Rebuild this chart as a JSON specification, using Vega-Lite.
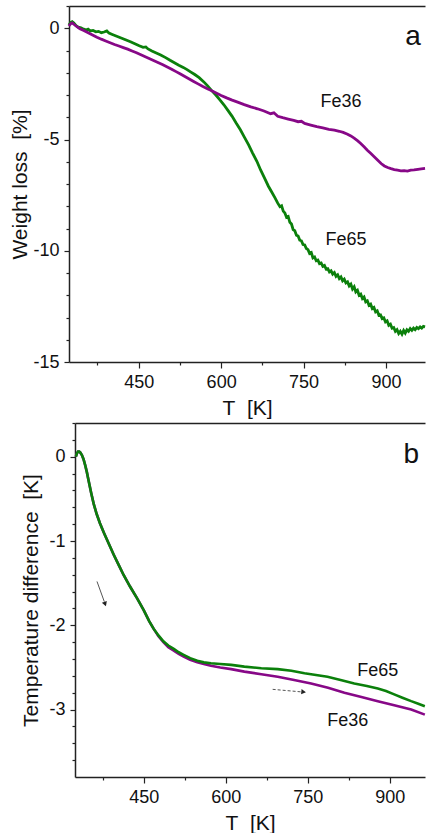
{
  "$schema": "https://vega.github.io/schema/vega-lite/v6.json",
  "padding": {"left": 9, "top": 5, "right": 0, "bottom": 0},
  "background": "white",
  "spacing": 4,
  "config": {
    "view": {"stroke": null},
    "axis": {"domainColor": "#222", "domainWidth": 1.5, "tickColor": "#222", "tickWidth": 1.2, "labelColor": "#111", "titleColor": "#111", "labelFont": "Liberation Sans", "titleFont": "Liberation Sans", "labelFontSize": 18, "titleFontSize": 21, "titleFontWeight": "normal", "grid": false, "labelPadding": 5, "labelFlush": false, "labelOverlap": false},
    "text": {"font": "Liberation Sans"}
  },
  "datasets": {
    "a65": [[323,0.15],[326,0.26],[329,0.30],[332,0.24],[336,0.12],[340,0.05],[345,0.02],[350,-0.04],[355,-0.08],[358,-0.04],[362,-0.12],[367,-0.10],[372,-0.16],[377,-0.14],[382,-0.20],[387,-0.17],[392,-0.12],[396,-0.22],[402,-0.28],[410,-0.36],[418,-0.44],[426,-0.52],[435,-0.61],[443,-0.70],[451,-0.79],[458,-0.86],[463,-0.84],[467,-0.93],[474,-1.02],[482,-1.11],[490,-1.20],[499,-1.32],[507,-1.44],[515,-1.55],[523,-1.66],[531,-1.76],[538,-1.86],[545,-1.97],[552,-2.08],[560,-2.22],[568,-2.40],[575,-2.58],[582,-2.78],[590,-2.99],[597,-3.20],[605,-3.44],[612,-3.68],[620,-3.96],[627,-4.25],[635,-4.56],[642,-4.88],[650,-5.24],[657,-5.60],[665,-5.98],[672,-6.38],[679,-6.74],[686,-7.10],[692,-7.36],[698,-7.62],[703,-7.86],[707,-8.02],[710,-7.98],[713,-8.22],[716,-8.30],[719,-8.50],[722,-8.46],[725,-8.72],[728,-8.80],[731,-9.05],[734,-9.10],[737,-9.30],[740,-9.34],[743,-9.52],[746,-9.55],[749,-9.72],[752,-9.74],[755,-9.90],[758,-9.95],[761,-10.12],[764,-10.08],[767,-10.32],[770,-10.28],[773,-10.45],[776,-10.42],[779,-10.58],[782,-10.55],[785,-10.70],[788,-10.66],[791,-10.82],[794,-10.80],[797,-10.95],[800,-10.90],[803,-11.05],[806,-10.98],[809,-11.15],[812,-11.08],[815,-11.25],[818,-11.18],[821,-11.35],[824,-11.28],[827,-11.45],[830,-11.40],[833,-11.58],[836,-11.50],[839,-11.72],[842,-11.62],[845,-11.85],[848,-11.78],[851,-12.00],[854,-11.95],[857,-12.15],[860,-12.08],[863,-12.30],[866,-12.25],[869,-12.45],[872,-12.40],[875,-12.60],[878,-12.55],[881,-12.75],[884,-12.70],[887,-12.90],[890,-12.88],[893,-13.05],[896,-13.02],[899,-13.20],[902,-13.15],[905,-13.35],[908,-13.30],[911,-13.48],[914,-13.45],[917,-13.62],[920,-13.55],[923,-13.72],[926,-13.62],[929,-13.75],[932,-13.58],[935,-13.70],[938,-13.55],[941,-13.62],[944,-13.50],[947,-13.58],[950,-13.48],[953,-13.55],[956,-13.45],[959,-13.50],[962,-13.42],[965,-13.48],[968,-13.40],[971,-13.42]],
    "a36": [[323,0.10],[326,0.20],[329,0.24],[332,0.18],[337,0.08],[343,-0.02],[350,-0.10],[358,-0.20],[366,-0.30],[374,-0.40],[382,-0.49],[390,-0.57],[398,-0.65],[406,-0.73],[414,-0.80],[422,-0.87],[430,-0.94],[438,-1.02],[446,-1.10],[454,-1.19],[462,-1.28],[470,-1.37],[478,-1.46],[486,-1.55],[494,-1.64],[502,-1.74],[510,-1.84],[518,-1.95],[526,-2.06],[534,-2.17],[542,-2.28],[550,-2.39],[558,-2.50],[566,-2.61],[574,-2.71],[582,-2.80],[590,-2.90],[600,-3.02],[610,-3.13],[620,-3.23],[630,-3.32],[642,-3.43],[654,-3.53],[666,-3.62],[678,-3.72],[690,-3.84],[696,-3.80],[703,-3.96],[712,-4.02],[722,-4.08],[732,-4.14],[740,-4.20],[746,-4.18],[752,-4.28],[763,-4.35],[774,-4.42],[785,-4.48],[796,-4.54],[806,-4.58],[815,-4.63],[822,-4.68],[830,-4.76],[836,-4.84],[842,-4.94],[848,-5.05],[854,-5.18],[860,-5.33],[866,-5.48],[872,-5.62],[878,-5.76],[885,-5.93],[891,-6.08],[897,-6.19],[903,-6.26],[909,-6.31],[915,-6.35],[921,-6.38],[927,-6.41],[933,-6.40],[939,-6.42],[945,-6.38],[951,-6.37],[958,-6.34],[964,-6.32],[971,-6.30]],
    "b65": [[326,0.00],[328,0.04],[330,0.06],[332,0.06],[334,0.05],[337,0.02],[340,-0.03],[343,-0.10],[346,-0.18],[349.5,-0.29],[354,-0.43],[358.6,-0.56],[364,-0.68],[370,-0.79],[377,-0.90],[386,-1.03],[395,-1.16],[404,-1.28],[413,-1.40],[425,-1.54],[438,-1.68],[450,-1.82],[460,-1.95],[468,-2.04],[477,-2.12],[486,-2.19],[495,-2.24],[505,-2.28],[514,-2.32],[523,-2.35],[535,-2.39],[548,-2.42],[560,-2.44],[573,-2.45],[590,-2.46],[610,-2.47],[634,-2.49],[665,-2.51],[695,-2.52],[720,-2.54],[744,-2.57],[765,-2.59],[786,-2.61],[810,-2.65],[835,-2.69],[858,-2.72],[878,-2.75],[893,-2.78],[908,-2.82],[923,-2.86],[939,-2.90],[952,-2.93],[964,-2.96]],
    "b36": [[326,0.00],[328,0.04],[330,0.06],[332,0.06],[334,0.05],[337,0.02],[340,-0.03],[343,-0.10],[346,-0.18],[349.5,-0.29],[354,-0.43],[358.6,-0.56],[364,-0.68],[370,-0.79],[377,-0.90],[386,-1.03],[395,-1.16],[404,-1.28],[413,-1.40],[425,-1.54],[438,-1.68],[450,-1.82],[460,-1.95],[468,-2.04],[477,-2.13],[486,-2.20],[495,-2.26],[505,-2.30],[514,-2.34],[523,-2.37],[535,-2.41],[548,-2.44],[560,-2.46],[573,-2.48],[590,-2.50],[610,-2.52],[634,-2.55],[665,-2.58],[695,-2.61],[725,-2.65],[756,-2.69],[787,-2.74],[817,-2.80],[848,-2.85],[878,-2.90],[908,-2.95],[939,-3.00],[964,-3.06]]
  },
  "vconcat": [
    {
      "width": 356,
      "height": 356,
      "resolve": {"axis": {"x": "independent", "y": "independent"}},
      "layer": [
        {
          "data": {"name": "a65"},
          "mark": {"type": "line", "color": "#0b800b", "strokeWidth": 2.8},
          "encoding": {
            "x": {"field": "0", "type": "quantitative", "scale": {"domain": [323.2, 970.9], "nice": false, "zero": false},
              "axis": {"orient": "bottom", "title": "T\u00a0\u00a0[K]", "titlePadding": 6, "values": [450, 600, 750, 900], "tickSize": 6}},
            "y": {"field": "1", "type": "quantitative", "scale": {"domain": [-15, 1], "nice": false, "zero": false},
              "axis": {"orient": "left", "title": "Weight loss\u00a0\u00a0[%]", "titlePadding": 2, "values": [0, -5, -10, -15], "labelExpr": "datum.value < 0 ? '-' + abs(datum.value) : '' + datum.value", "tickSize": 5}}
          }
        },
        {
          "data": {"name": "a36"},
          "mark": {"type": "line", "color": "#870887", "strokeWidth": 2.8},
          "encoding": {
            "x": {"field": "0", "type": "quantitative", "axis": {"orient": "bottom", "title": null, "labels": false, "domain": false, "values": [375, 525, 675, 825], "tickSize": 3}},
            "y": {"field": "1", "type": "quantitative", "axis": {"orient": "left", "title": null, "labels": false, "domain": false, "values": [1, -1, -2, -3, -4, -6, -7, -8, -9, -11, -12, -13, -14], "tickSize": 3}}
          }
        },
        {
          "data": {"values": [{"T": 818, "v": -3.31, "label": "Fe36"}, {"T": 827, "v": -9.52, "label": "Fe65"}]},
          "mark": {"type": "text", "fontSize": 18, "color": "#111"},
          "encoding": {
            "x": {"field": "T", "type": "quantitative", "axis": null},
            "y": {"field": "v", "type": "quantitative", "axis": null},
            "text": {"field": "label"}
          }
        },
        {
          "data": {"values": [{"T": 949, "v": -0.4, "label": "a"}]},
          "mark": {"type": "text", "fontSize": 28, "color": "#111"},
          "encoding": {
            "x": {"field": "T", "type": "quantitative", "axis": {"orient": "top", "labels": false, "ticks": false, "title": null, "domain": true}},
            "y": {"field": "v", "type": "quantitative", "axis": null},
            "text": {"field": "label"}
          }
        }
      ]
    },
    {
      "width": 356,
      "height": 354,
      "resolve": {"axis": {"x": "independent", "y": "independent"}},
      "layer": [
        {
          "data": {"name": "b36"},
          "mark": {"type": "line", "color": "#870887", "strokeWidth": 2.6},
          "encoding": {
            "x": {"field": "0", "type": "quantitative", "scale": {"domain": [324.4, 964.3], "range": [6, 356], "nice": false, "zero": false},
              "axis": {"orient": "bottom", "title": "T\u00a0\u00a0[K]", "titlePadding": 6, "values": [450, 600, 750, 900], "tickSize": 6}},
            "y": {"field": "1", "type": "quantitative", "scale": {"domain": [-3.8, 0.4], "nice": false, "zero": false},
              "axis": {"orient": "left", "offset": -6, "title": "Temperature difference\u00a0\u00a0[K]", "titlePadding": 7, "values": [0, -1, -2, -3], "labelExpr": "datum.value < 0 ? '-' + abs(datum.value) : '' + datum.value", "tickSize": 5}}
          }
        },
        {
          "data": {"name": "b65"},
          "mark": {"type": "line", "color": "#0b800b", "strokeWidth": 2.6},
          "encoding": {
            "x": {"field": "0", "type": "quantitative", "axis": {"orient": "bottom", "title": null, "labels": false, "domain": false, "values": [375, 525, 675, 825], "tickSize": 3}},
            "y": {"field": "1", "type": "quantitative", "axis": {"orient": "left", "offset": -6, "title": null, "labels": false, "domain": false, "values": [0.4, 0.2, -0.2, -0.4, -0.6, -0.8, -1.2, -1.4, -1.6, -1.8, -2.2, -2.4, -2.6, -2.8, -3.2, -3.4, -3.6], "tickSize": 3}}
          }
        },
        {
          "data": {"values": [{"T": 878, "v": -2.54, "label": "Fe65"}, {"T": 823, "v": -3.14, "label": "Fe36"}]},
          "mark": {"type": "text", "fontSize": 18, "color": "#111"},
          "encoding": {
            "x": {"field": "T", "type": "quantitative", "axis": null},
            "y": {"field": "v", "type": "quantitative", "axis": null},
            "text": {"field": "label"}
          }
        },
        {
          "data": {"values": [{"T": 939, "v": 0.02, "label": "b"}]},
          "mark": {"type": "text", "fontSize": 28, "color": "#111"},
          "encoding": {
            "x": {"field": "T", "type": "quantitative", "axis": {"orient": "top", "labels": false, "ticks": false, "title": null, "domain": true}},
            "y": {"field": "v", "type": "quantitative", "axis": null},
            "text": {"field": "label"}
          }
        },
        {
          "data": {"values": [{"T": 364.6, "v": -1.48, "T2": 378, "v2": -1.72}]},
          "mark": {"type": "rule", "color": "#555", "strokeWidth": 1},
          "encoding": {
            "x": {"field": "T", "type": "quantitative", "axis": null},
            "y": {"field": "v", "type": "quantitative", "axis": null},
            "x2": {"field": "T2"},
            "y2": {"field": "v2"}
          }
        },
        {
          "data": {"values": [{"T": 379, "v": -1.74}]},
          "mark": {"type": "point", "shape": "triangle", "filled": true, "color": "#222", "size": 28, "angle": 160, "opacity": 1},
          "encoding": {
            "x": {"field": "T", "type": "quantitative", "axis": null},
            "y": {"field": "v", "type": "quantitative", "axis": null}
          }
        },
        {
          "data": {"values": [{"T": 685.8, "v": -2.76, "T2": 738, "v2": -2.79}]},
          "mark": {"type": "rule", "color": "#555", "strokeWidth": 1, "strokeDash": [3, 2]},
          "encoding": {
            "x": {"field": "T", "type": "quantitative", "axis": null},
            "y": {"field": "v", "type": "quantitative", "axis": null},
            "x2": {"field": "T2"},
            "y2": {"field": "v2"}
          }
        },
        {
          "data": {"values": [{"T": 741, "v": -2.79}]},
          "mark": {"type": "point", "shape": "triangle", "filled": true, "color": "#222", "size": 28, "angle": 95, "opacity": 1},
          "encoding": {
            "x": {"field": "T", "type": "quantitative", "axis": null},
            "y": {"field": "v", "type": "quantitative", "axis": null}
          }
        }
      ]
    }
  ]
}
